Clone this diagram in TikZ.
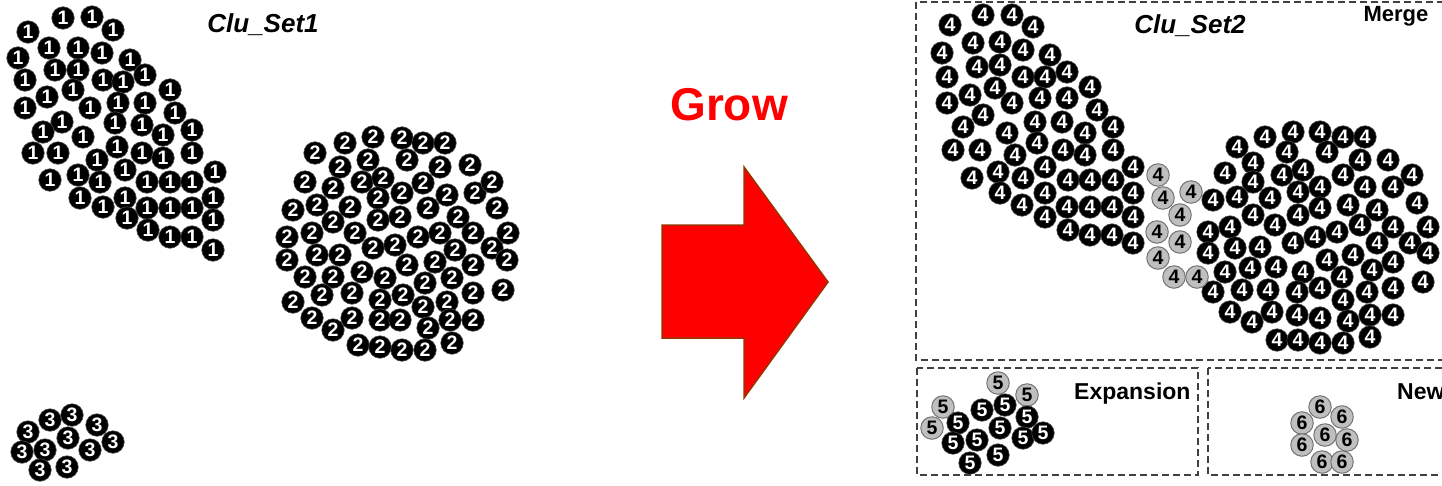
\documentclass[tikz,border=0pt]{standalone}
\usepackage{fontspec}
\setmainfont{Liberation Sans}
\definecolor{arrowedge}{RGB}{153,51,0}
\begin{document}
\begin{tikzpicture}[x=1pt,y=-1pt,
  dot/.style={circle,minimum size=22.5pt,inner sep=0pt,font=\fontsize{19.5}{19.5}\selectfont\bfseries},
  blk/.style={dot,fill=black,draw=black!70,line width=0.6pt,text=white},
  gry/.style={dot,fill=black!25,draw=black!55,line width=1pt,text=black},
  lbl/.style={font=\fontsize{23}{23}\selectfont\bfseries,inner sep=0pt},
  ttl/.style={font=\fontsize{26}{26}\selectfont\bfseries\itshape,inner sep=0pt},
  region/.style={draw=black!75,line width=1.6pt,dash pattern=on 7pt off 4pt}]
\useasboundingbox (0,0) rectangle (1442,485);
\clip (0,0) rectangle (1442,485);

% cluster 1
\foreach \x/\y [count=\i] in {28/32,63/18,92/17,113/30,49/48,78/48,102/53,130/60,18/58,55/70,78/70,25/80,103/80,123/82,145/75,170/90,47/97,73/90,25/108,90/108,118/103,145/103,175/113,62/122,43/132,83/137,115/123,142/125,163/135,192/130,33/153,58/153,97/160,117/147,142/153,163/158,192/153,50/180,78/175,100/182,125/170,147/182,170/182,192/182,215/172,80/198,103/207,125/198,147/208,170/208,192/208,213/198,127/218,148/230,170/237,192/237,213/220,213/250}
  \node[blk] (a\i) at (\x,\y) {1};

% cluster 2
\foreach \x/\y [count=\i] in {315/153,345/143,373/137,402/138,423/143,445/143,340/167,368/160,407/160,440/167,470/165,305/182,333/188,362/182,383/178,423/183,447/195,475/193,492/182,293/210,317/205,350/207,378/198,402/193,428/208,458/217,497/208,333/222,378/220,400/217,287/237,312/233,355/233,373/248,395/245,418/237,440/233,455/250,473/233,492/248,508/233,287/260,317/255,340/255,362/272,385/278,407/265,435/262,473/265,507/260,305/277,333/277,425/283,452/278,293/302,322/295,352/293,380/300,403/295,423/307,447/302,473/293,503/290,312/318,333/330,352/318,380/320,400/320,428/328,450/320,473/320,358/345,380/347,402/350,425/350,452/343}
  \node[blk] (b\i) at (\x,\y) {2};

% cluster 3
\foreach \x/\y [count=\i] in {28/432,50/420,72/415,97/425,68/438,22/452,45/450,90/450,113/442,40/470,67/467}
  \node[blk] (c\i) at (\x,\y) {3};

% grow arrow
\node[font=\fontsize{46}{46}\selectfont\bfseries,text=red,inner sep=0pt] (grow) at (729,105) {Grow};
\fill[red,draw=arrowedge,line width=1.5pt,line join=miter]
  (662,225) -- (744,225) -- (744,167) -- (828,282) -- (744,398) -- (744,338) -- (662,338) -- cycle;

% region frames
\draw[region] (916,2) rectangle (1460,360);
\draw[region] (917,368) rectangle (1198,475);
\draw[region] (1208,368) rectangle (1460,475);

% merged cluster 4
\foreach \x/\y [count=\i] in {950/25,983/15,1012/15,1033/27,942/53,973/43,1000/42,1023/50,1050/55,947/77,977/67,1000/65,1023/77,1045/77,1067/72,1090/87,947/103,970/95,995/88,1012/103,1040/98,1067/98,1097/110,963/127,983/115,1007/133,1035/122,1062/122,1085/133,1113/127,953/150,980/150,1015/155,1037/143,1063/150,1085/155,1113/150,972/178,998/172,1023/178,1045/167,1068/180,1090/180,1113/180,1133/167,1000/193,1022/205,1045/193,1067/207,1090/207,1112/207,1133/193,1045/217,1068/230,1090/235,1112/235,1133/217,1133/243}
  \node[blk] (d\i) at (\x,\y) {4};
\foreach \x/\y [count=\i] in {1237/147,1265/137,1293/132,1320/132,1343/137,1365/137,1253/163,1287/152,1327/152,1360/160,1388/160,1225/173,1253/182,1282/175,1303/170,1298/192,1320/187,1343/175,1365/187,1393/187,1412/175,1213/200,1237/197,1270/198,1253/215,1298/215,1320/208,1348/205,1377/210,1417/203,1208/232,1230/227,1275/225,1293/243,1315/237,1337/232,1360/225,1393/227,1428/227,1208/253,1235/248,1260/247,1327/260,1353/255,1377/243,1410/243,1428/253,1225/272,1250/268,1276/267,1303/272,1342/277,1372/270,1393/262,1213/292,1242/290,1268/290,1297/292,1320/288,1343/300,1367/292,1393/288,1423/282,1230/312,1252/322,1272/312,1297/315,1320/318,1348/321,1370/315,1393/315,1277/340,1298/340,1320/343,1343/343,1370/337}
  \node[blk] (e\i) at (\x,\y) {4};
\foreach \x/\y [count=\i] in {1158/175,1163/198,1191/192,1180/215,1157/232,1180/242,1158/258,1174/277,1197/277}
  \node[gry] (f\i) at (\x,\y) {4};

% expansion cluster 5
\foreach \x/\y [count=\i] in {998/383,1027/395,943/407,932/428}
  \node[gry] (g\i) at (\x,\y) {5};
\foreach \x/\y [count=\i] in {982/410,1005/405,1027/417,958/423,1000/428,1023/438,1043/433,953/443,977/440,998/455,970/463}
  \node[blk] (h\i) at (\x,\y) {5};

% new cluster 6
\foreach \x/\y [count=\i] in {1320/407,1342/417,1302/423,1325/435,1347/440,1302/445,1322/462,1342/462}
  \node[gry] (k\i) at (\x,\y) {6};

% titles and labels
\node[ttl,anchor=base] (t1) at (263,32) {Clu\_Set1};
\node[ttl,anchor=base] (t2) at (1190,33) {Clu\_Set2};
\node[lbl,font=\fontsize{22}{22}\selectfont\bfseries,anchor=base] (merge) at (1396,21) {Merge};
\node[lbl,anchor=base west] (expansion) at (1074,399) {Expansion};
\node[lbl,anchor=base west] (new) at (1397,399) {New};
\end{tikzpicture}
\end{document}
